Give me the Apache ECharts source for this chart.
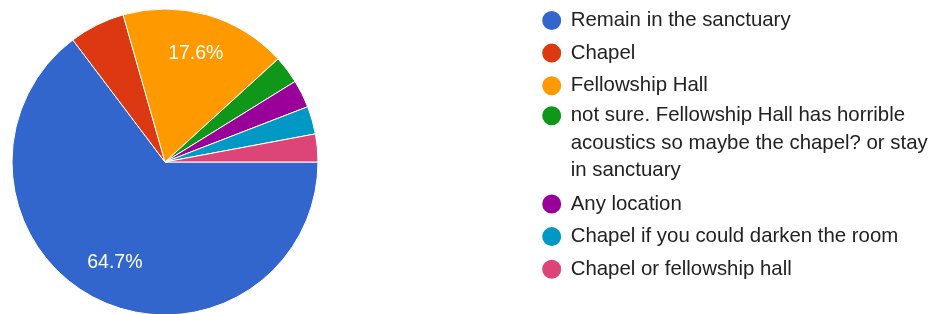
<!DOCTYPE html>
<html>
<head>
<meta charset="utf-8">
<script src="https://cdn.jsdelivr.net/npm/echarts@6/dist/echarts.min.js"></script>
<style>
  html, body { margin: 0; padding: 0; background: #fff; }
  #chart { width: 938px; height: 314px; }
</style>
</head>
<body>
<div id="chart"></div>
<script>
// ---- Data ----
const categories = [
  'Remain in the sanctuary',
  'Chapel',
  'Fellowship Hall',
  'not sure. Fellowship Hall has horrible acoustics so maybe the chapel? or stay in sanctuary',
  'Any location',
  'Chapel if you could darken the room',
  'Chapel or fellowship hall'
];
const responses = [22, 2, 6, 1, 1, 1, 1];
const colors = ['#3366cc', '#dc3912', '#ff9900', '#109618', '#990099', '#0099c6', '#dd4477'];

const FONT = 'Arial, "Liberation Sans", sans-serif';
const total = responses.reduce((a, b) => a + b, 0);
const pieData = categories.map((name, i) => ({ name, value: responses[i] }));

const legendBase = {
  orient: 'vertical',
  left: 540.2,
  padding: 0,
  itemWidth: 28,
  itemHeight: 21,
  itemGap: 9.6,
  icon: 'circle',
  selectedMode: false,
  textStyle: { fontFamily: FONT, fontSize: 20.4, color: '#222' }
};

const chart = echarts.init(document.getElementById('chart'), null, { renderer: 'canvas' });
chart.setOption({
  animation: false,
  color: colors,
  legend: [
    Object.assign({}, legendBase, { top: 9, data: categories.slice(0, 3) }),
    Object.assign({}, legendBase, {
      top: 47,
      data: [categories[3]],
      // two leading blank lines push the wrapped text down so its first line sits beside the marker
      formatter: (name) => '\n\n' + name,
      textStyle: {
        fontFamily: FONT, fontSize: 20.4, color: '#222',
        lineHeight: 27.5, width: 366, overflow: 'break'
      }
    }),
    Object.assign({}, legendBase, { top: 192.5, data: categories.slice(4) })
  ],
  series: [
    {
      type: 'pie',
      center: [165, 162],
      radius: 153,
      startAngle: 0,
      clockwise: true,
      avoidLabelOverlap: false,
      itemStyle: { borderColor: '#fff', borderWidth: 1 },
      label: { show: false },
      labelLine: { show: false },
      emphasis: { disabled: true },
      data: pieData
    },
    {
      type: 'pie',
      center: [165, 162],
      radius: [66, 153],
      startAngle: 0,
      clockwise: true,
      silent: true,
      avoidLabelOverlap: false,
      minShowLabelAngle: 30,
      itemStyle: { color: 'rgba(0,0,0,0)', borderWidth: 0 },
      label: {
        show: true,
        position: 'inside',
        formatter: (p) => (p.value / total * 100).toFixed(1) + '%',
        color: '#fff',
        fontFamily: FONT,
        fontSize: 19.5
      },
      labelLine: { show: false },
      emphasis: { disabled: true },
      data: pieData
    }
  ]
});
</script>
</body>
</html>
